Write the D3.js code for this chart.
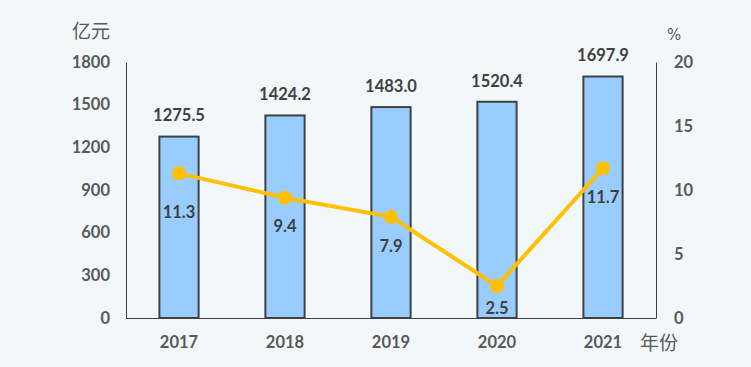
<!DOCTYPE html>
<html>
<head>
<meta charset="utf-8">
<script src="https://cdn.jsdelivr.net/npm/d3@7"></script>
<style>
  html, body { margin: 0; padding: 0; background: #f2f7fa; }
  svg { display: block; }
</style>
</head>
<body>
<script>
const years = ["2017", "2018", "2019", "2020", "2021"];
const amounts = [1275.5, 1424.2, 1483.0, 1520.4, 1697.9];
const growth = [11.3, 9.4, 7.9, 2.5, 11.7];
const leftTicks = [0, 300, 600, 900, 1200, 1500, 1800];
const rightTicks = [0, 5, 10, 15, 20];
const growthLabelOffsets = [39, 29, 29, 22, 29];

const W = 751, H = 367;
const m = { left: 126, right: 95, top: 62, bottom: 49 };
const x0 = m.left, x1 = W - m.right, y0 = H - m.bottom, y1 = m.top;

const svg = d3.select("body").append("svg").attr("width", W).attr("height", H);
svg.append("rect").attr("width", W).attr("height", H).attr("fill", "#f2f7fa");

const x = d3.scaleBand().domain(years).range([x0, x1]).paddingInner(0.63).paddingOuter(0.315);
const yL = d3.scaleLinear().domain([0, 1800]).range([y0, y1]);
const yR = d3.scaleLinear().domain([0, 20]).range([y0, y1]);

const numFont = "Lato, 'Open Sans', sans-serif";
const FS = 16.5;

// bars
svg.append("g").selectAll("rect").data(years).join("rect")
  .attr("x", d => x(d))
  .attr("y", (d, i) => yL(amounts[i]))
  .attr("width", x.bandwidth())
  .attr("height", (d, i) => y0 - yL(amounts[i]))
  .attr("fill", "#99ccff")
  .attr("stroke", "#404040")
  .attr("stroke-width", 2);

// axes
const axisL = svg.append("g").attr("transform", `translate(${x0},0)`)
  .call(d3.axisLeft(yL).tickValues(leftTicks).tickFormat(d3.format("d")).tickSize(0).tickPadding(16));
const axisR = svg.append("g").attr("transform", `translate(${x1},0)`)
  .call(d3.axisRight(yR).tickValues(rightTicks).tickFormat(d3.format("d")).tickSize(0).tickPadding(18));
const axisB = svg.append("g").attr("transform", `translate(0,${y0})`)
  .call(d3.axisBottom(x).tickSize(0).tickPadding(18));
axisB.select(".domain").attr("d", `M${x0},0.5H${x1}`);
[axisL, axisR, axisB].forEach(g => {
  g.select(".domain").attr("stroke", "#404040").attr("stroke-width", 1);
  g.selectAll("text").attr("font-family", numFont).attr("font-weight", "bold")
    .attr("font-size", FS).attr("fill", "#595959");
});

// line
const line = d3.line().x((d, i) => x(years[i]) + x.bandwidth() / 2).y(d => yR(d));
svg.append("path").datum(growth).attr("d", line)
  .attr("fill", "none").attr("stroke", "#ffc000").attr("stroke-width", 4)
  .attr("stroke-linejoin", "round");
svg.append("g").selectAll("circle").data(growth).join("circle")
  .attr("cx", (d, i) => x(years[i]) + x.bandwidth() / 2)
  .attr("cy", d => yR(d))
  .attr("r", 7)
  .attr("fill", "#ffc000");

// bar labels
svg.append("g").selectAll("text").data(amounts).join("text")
  .attr("x", (d, i) => x(years[i]) + x.bandwidth() / 2)
  .attr("y", d => yL(d) - 21)
  .attr("dy", "0.35em")
  .attr("text-anchor", "middle")
  .attr("font-family", numFont).attr("font-weight", "bold").attr("font-size", FS)
  .attr("fill", "#404040")
  .text(d => d.toFixed(1));

// line labels
svg.append("g").selectAll("text").data(growth).join("text")
  .attr("x", (d, i) => x(years[i]) + x.bandwidth() / 2)
  .attr("y", (d, i) => yR(d) + growthLabelOffsets[i])
  .attr("dy", "0.35em")
  .attr("text-anchor", "middle")
  .attr("font-family", numFont).attr("font-weight", "bold").attr("font-size", FS)
  .attr("fill", "#404040")
  .text(d => d.toFixed(1));

// unit labels
const cjk = "'Noto Sans CJK SC', sans-serif";
svg.append("text").attr("x", 72).attr("y", 31).attr("dy", "0.35em")
  .attr("font-family", cjk).attr("font-size", 19).attr("fill", "#595959").text("亿元");
svg.append("text").attr("x", 667).attr("y", 35).attr("dy", "0.35em")
  .attr("font-family", "'DejaVu Sans', sans-serif").attr("font-size", 15).attr("fill", "#595959").text("%");
svg.append("text").attr("x", 640).attr("y", 343).attr("dy", "0.35em")
  .attr("font-family", cjk).attr("font-size", 19).attr("fill", "#595959").text("年份");
</script>
</body>
</html>
